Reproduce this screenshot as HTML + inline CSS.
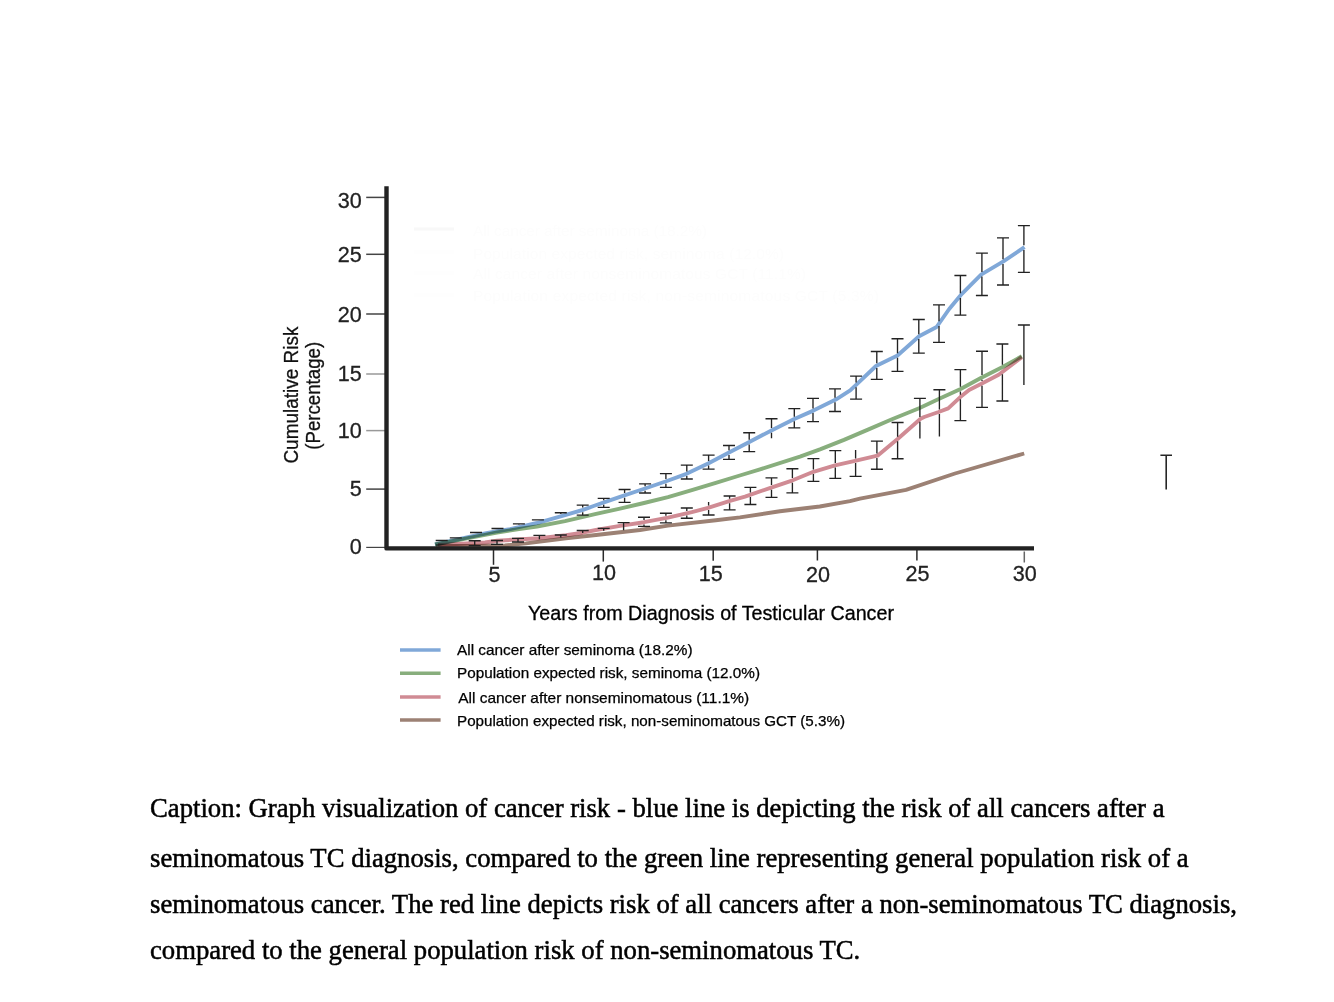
<!DOCTYPE html>
<html><head><meta charset="utf-8"><title>Cancer risk chart</title>
<style>html,body{margin:0;padding:0;background:#fff;width:1334px;height:1002px;overflow:hidden;position:relative}</style>
</head><body>
<svg width="1334" height="1002" viewBox="0 0 1334 1002" style="position:absolute;left:0;top:0"><g fill="#fdfdfd" font-family="Liberation Sans, sans-serif" font-size="15.5"><text x="473" y="236.4" textLength="234" lengthAdjust="spacing">All cancer after seminoma (18.2%)</text><text x="473" y="258.8" textLength="311" lengthAdjust="spacing">Population expected risk, seminoma (12.0%)</text><text x="473" y="279.3" textLength="333" lengthAdjust="spacing">All cancer after nonseminomatous GCT (11.1%)</text><text x="473" y="300.8" textLength="406" lengthAdjust="spacing">Population expected risk, non-seminomatous GCT (5.3%)</text></g><path d="M414,229H454" stroke="#f8f8f8" stroke-width="3"/><path d="M414,252H454M414,273H454M414,295H454" stroke="#fefefe" stroke-width="3"/><path d="M366.2,197.4H385" stroke="#444" stroke-width="1.5" fill="none"/><path d="M366.2,254.3H385" stroke="#444" stroke-width="1.5" fill="none"/><path d="M366.2,314H385" stroke="#444" stroke-width="1.5" fill="none"/><path d="M366.2,374H385" stroke="#999" stroke-width="1.5" fill="none"/><path d="M366.2,430.6H385" stroke="#999" stroke-width="1.5" fill="none"/><path d="M366.2,489.1H385" stroke="#444" stroke-width="1.5" fill="none"/><path d="M366.2,547.4H385" stroke="#444" stroke-width="1.2" fill="none"/><path d="M493.5,550V564.8" stroke="#2a2a2a" stroke-width="1.5" fill="none"/><path d="M603.3,550V561.6" stroke="#2a2a2a" stroke-width="1.5" fill="none"/><path d="M713.2,550V560.7" stroke="#2a2a2a" stroke-width="1.5" fill="none"/><path d="M817.4,550V560.5" stroke="#2a2a2a" stroke-width="1.5" fill="none"/><path d="M916.9,550V560.5" stroke="#2a2a2a" stroke-width="1.5" fill="none"/><path d="M1024.3,551.5V562.5" stroke="#666" stroke-width="1.5" fill="none"/><g font-family="Liberation Sans, sans-serif" font-size="22.5" fill="#222" stroke="#222" stroke-width="0.3" text-anchor="end"><text x="361.8" y="207.7" textLength="24.0" lengthAdjust="spacingAndGlyphs">30</text><text x="361.8" y="261.6" textLength="24.0" lengthAdjust="spacingAndGlyphs">25</text><text x="361.8" y="321.6" textLength="24.0" lengthAdjust="spacingAndGlyphs">20</text><text x="361.8" y="381.3" textLength="24.0" lengthAdjust="spacingAndGlyphs">15</text><text x="361.8" y="438.2" textLength="24.0" lengthAdjust="spacingAndGlyphs">10</text><text x="361.8" y="496.2" textLength="12.0" lengthAdjust="spacingAndGlyphs">5</text><text x="361.8" y="554" textLength="12.0" lengthAdjust="spacingAndGlyphs">0</text></g><g font-family="Liberation Sans, sans-serif" font-size="22.5" fill="#222" stroke="#222" stroke-width="0.3" text-anchor="middle"><text x="494.5" y="581.8" textLength="12.0" lengthAdjust="spacingAndGlyphs">5</text><text x="603.9" y="580.4" textLength="24.0" lengthAdjust="spacingAndGlyphs">10</text><text x="710.7" y="581" textLength="24.0" lengthAdjust="spacingAndGlyphs">15</text><text x="817.9" y="581.5" textLength="24.0" lengthAdjust="spacingAndGlyphs">20</text><text x="917.6" y="581" textLength="24.0" lengthAdjust="spacingAndGlyphs">25</text><text x="1024.8" y="581" textLength="24.0" lengthAdjust="spacingAndGlyphs">30</text></g><g fill="none" stroke-width="3.9" stroke-linejoin="round" stroke-linecap="butt"><path d="M436.0,546.0 L470.0,546.0 L505.0,545.4 L526.0,543.4 L566.0,538.4 L596.0,535.0 L640.0,530.0 L667.9,525.6 L715.8,520.2 L740.0,517.4 L779.9,511.3 L819.8,506.5 L850.0,501.2 L860.0,498.7 L906.0,489.9 L955.0,473.5 L1024.2,453.5" stroke="#9c8174" style="mix-blend-mode:multiply"/><path d="M438.0,545.0 L485.0,542.5 L497.0,540.7 L539.0,538.2 L566.0,535.3 L582.7,532.7 L596.0,530.0 L620.0,525.9 L644.0,522.2 L668.0,517.6 L691.8,512.2 L708.0,507.9 L730.0,500.9 L745.0,496.6 L771.9,487.3 L792.7,480.3 L813.4,471.8 L835.0,465.3 L855.0,460.8 L877.5,455.7 L897.9,438.8 L920.6,418.8 L924.2,417.0 L938.6,412.0 L948.2,408.4 L960.3,397.1 L969.1,389.9 L981.9,383.5 L998.7,374.7 L1021.8,357.1" stroke="#d08b94" style="mix-blend-mode:multiply"/><path d="M435.0,544.5 L485.0,533.5 L497.0,531.2 L510.0,529.1 L519.0,527.1 L537.0,523.0 L565.0,515.0 L583.0,509.8 L595.0,505.5 L604.0,502.4 L620.0,496.9 L645.0,488.5 L665.5,481.5 L686.5,473.8 L708.6,463.3 L729.0,452.6 L749.3,442.0 L771.9,430.2 L794.3,419.0 L813.4,410.6 L835.8,399.6 L850.2,390.4 L856.6,384.4 L876.0,366.0 L897.5,355.5 L919.1,336.3 L936.6,327.0 L949.2,309.0 L961.9,293.8 L981.1,274.7 L1003.4,261.4 L1024.5,247.2" stroke="#80a8d8" style="mix-blend-mode:multiply"/><path d="M435.0,544.5 L485.0,534.8 L497.0,532.5 L519.0,529.0 L537.0,526.5 L565.0,521.1 L595.0,514.2 L620.0,508.6 L644.0,503.0 L668.0,497.1 L691.8,490.1 L715.8,482.8 L739.8,475.5 L760.0,469.4 L800.0,456.6 L820.0,449.4 L844.0,439.9 L868.0,429.6 L892.0,419.3 L900.0,416.0 L919.1,408.2 L939.8,398.6 L960.6,389.0 L981.3,377.8 L1002.6,367.0 L1021.8,356.3" stroke="#88ae7d" style="mix-blend-mode:multiply"/></g><path d="M435.7,540.5H447.7M449.8,537.8H461.8M476.0,532.5V533.2M470.0,532.5H482.0M491.5,528.5H503.5M518.9,523.8V524.8M512.9,523.8H524.9M537.9,519.9V520.4M531.9,519.9H543.9M560.8,512.7V513.9M554.8,512.7H566.8M582.7,505.1V507.6M582.7,512.2V515.1M576.7,505.1H588.7M576.7,515.1H588.7M603.7,498.4V500.2M603.7,504.8V507.4M597.7,498.4H609.7M597.7,507.4H609.7M624.6,489.5V493.1M624.6,497.7V502.4M618.6,489.5H630.6M618.6,502.4H630.6M645.1,483.8V486.2M645.1,490.8V493.0M639.1,483.8H651.1M639.1,493.0H651.1M665.9,473.6V479.1M665.9,483.7V487.3M659.9,473.6H671.9M659.9,487.3H671.9M686.8,465.1V471.4M686.8,476.0V479.0M680.8,465.1H692.8M680.8,479.0H692.8M708.6,455.1V461.0M708.6,465.6V469.1M702.6,455.1H714.6M702.6,469.1H714.6M729.0,445.5V450.3M729.0,454.9V459.3M723.0,445.5H735.0M723.0,459.3H735.0M749.2,432.7V439.8M749.2,444.4V451.6M743.2,432.7H755.2M743.2,451.6H755.2M771.5,418.7V428.1M771.5,432.7V438.3M765.5,418.7H777.5M794.3,408.6V416.7M794.3,421.3V427.8M788.3,408.6H800.3M788.3,427.8H800.3M813.0,398.4V408.5M813.0,413.1V421.6M807.0,398.4H819.0M807.0,421.6H819.0M835.0,388.8V397.7M835.0,402.3V411.5M829.0,388.8H841.0M829.0,411.5H841.0M856.1,376.1V382.6M856.1,387.2V399.1M850.1,376.1H862.1M850.1,399.1H862.1M876.8,351.5V363.3M876.8,367.9V379.4M870.8,351.5H882.8M870.8,379.4H882.8M897.5,338.7V353.2M897.5,357.8V371.4M891.5,338.7H903.5M891.5,371.4H903.5M918.8,319.5V334.3M918.8,338.9V353.1M912.8,319.5H924.8M912.8,353.1H924.8M939.0,304.9V321.3M939.0,325.9V342.3M933.0,304.9H945.0M933.0,342.3H945.0M960.4,275.5V293.3M960.4,297.9V315.1M954.4,275.5H966.4M954.4,315.1H966.4M981.9,253.1V271.9M981.9,276.5V295.5M975.9,253.1H987.9M975.9,295.5H987.9M1003.0,237.9V259.3M1003.0,263.9V285.0M997.0,237.9H1009.0M997.0,285.0H1009.0M1023.9,225.6V245.3M1023.9,249.9V272.3M1017.9,225.6H1029.9M1017.9,272.3H1029.9M474.7,540.7V545.6M468.7,540.7H480.7M468.7,545.6H480.7M497.0,540.5V544.4M491.0,540.5H503.0M491.0,544.4H503.0M518.0,538.3V542.0M512.0,538.3H524.0M512.0,542.0H524.0M539.4,535.3V539.3M533.4,535.3H545.4M560.8,535.0V537.5M554.8,535.0H566.8M582.7,530.5V533.0M576.7,530.5H588.7M603.7,528.3V530.8M597.7,528.3H609.7M623.6,522.6V530.2M617.6,522.6H629.6M644.0,517.2V519.9M644.0,524.5V526.3M638.0,517.2H650.0M638.0,526.3H650.0M665.9,513.2V515.7M665.9,520.3V522.8M659.9,513.2H671.9M659.9,522.8H671.9M686.8,508.0V511.0M686.8,515.6V518.2M680.8,508.0H692.8M680.8,518.2H692.8M708.6,502.0V505.4M708.6,510.0V515.0M702.6,515.0H714.6M729.6,496.0V498.7M729.6,503.3V509.8M723.6,496.0H735.6M723.6,509.8H735.6M750.4,487.4V492.4M750.4,497.0V504.5M744.4,487.4H756.4M744.4,504.5H756.4M771.5,477.8V485.1M771.5,489.7V497.3M765.5,477.8H777.5M765.5,497.3H777.5M792.4,468.7V478.1M792.4,482.7V492.9M786.4,468.7H798.4M786.4,492.9H798.4M813.4,458.6V469.5M813.4,474.1V481.3M807.4,458.6H819.4M807.4,481.3H819.4M835.3,450.6V462.9M835.3,467.5V478.3M829.3,450.6H841.3M829.3,478.3H841.3M855.6,450.0V458.4M855.6,463.0V476.3M849.6,476.3H861.6M876.9,441.1V453.5M876.9,458.1V469.2M870.9,441.1H882.9M870.9,469.2H882.9M897.6,422.5V436.7M897.6,441.3V458.7M891.6,422.5H903.6M891.6,458.7H903.6M919.9,398.3V417.1M919.9,421.7V438.4M913.9,398.3H925.9M939.4,389.7V409.4M939.4,414.0V436.4M933.4,389.7H945.4M960.4,369.6V386.8M960.4,391.4V394.7M960.4,399.3V420.6M954.4,369.6H966.4M954.4,420.6H966.4M982.0,351.2V375.1M982.0,379.7V381.1M982.0,385.7V407.4M976.0,351.2H988.0M976.0,407.4H988.0M1002.4,344.0V364.8M1002.4,374.2V401.0M996.4,344.0H1008.4M996.4,401.0H1008.4M1023.9,325.0V385.1M1017.9,325.0H1029.9" stroke="#222" stroke-width="1.35" fill="none"/><path d="M1160.4,455.3H1172M1166.2,455.3V489.4" stroke="#262626" stroke-width="1.6" fill="none"/><path d="M386.5,186.3V548.4H1034" stroke="#222" stroke-width="4.4" fill="none" stroke-linejoin="round"/><text x="528" y="620" font-family="Liberation Sans, sans-serif" font-size="19.3" fill="#000" stroke="#000" stroke-width="0.3" textLength="366" lengthAdjust="spacingAndGlyphs">Years from Diagnosis of Testicular Cancer</text><g font-family="Liberation Sans, sans-serif" font-size="20.3" fill="#111" stroke="#111" stroke-width="0.3"><text transform="translate(297.6,463.6) rotate(-90)" textLength="137" lengthAdjust="spacingAndGlyphs">Cumulative Risk</text><text transform="translate(319.5,449.8) rotate(-90)" textLength="108" lengthAdjust="spacingAndGlyphs">(Percentage)</text></g><path d="M400,650H440.6" stroke="#80a8d8" stroke-width="3.6"/><text x="457.0" y="655.1" font-family="Liberation Sans, sans-serif" font-size="14.3" fill="#000" stroke="#000" stroke-width="0.25" textLength="235.5" lengthAdjust="spacingAndGlyphs">All cancer after seminoma (18.2%)</text><path d="M400,673.3H440.6" stroke="#88ae7d" stroke-width="3.6"/><text x="457.0" y="677.6" font-family="Liberation Sans, sans-serif" font-size="14.3" fill="#000" stroke="#000" stroke-width="0.25" textLength="303" lengthAdjust="spacingAndGlyphs">Population expected risk, seminoma (12.0%)</text><path d="M400,697H440.6" stroke="#d08b94" stroke-width="3.6"/><text x="458.2" y="703.2" font-family="Liberation Sans, sans-serif" font-size="14.3" fill="#000" stroke="#000" stroke-width="0.25" textLength="291" lengthAdjust="spacingAndGlyphs">All cancer after nonseminomatous (11.1%)</text><path d="M400,720H440.6" stroke="#9c8174" stroke-width="3.6"/><text x="457.0" y="725.7" font-family="Liberation Sans, sans-serif" font-size="14.3" fill="#000" stroke="#000" stroke-width="0.25" textLength="388" lengthAdjust="spacingAndGlyphs">Population expected risk, non-seminomatous GCT (5.3%)</text><g font-family="Liberation Serif, serif" font-size="26.7" fill="#000" stroke="#000" stroke-width="0.5"><text x="150" y="817.2">Caption: Graph visualization of cancer risk - blue line is depicting the risk of all cancers after a</text><text x="150" y="866.7">seminomatous TC diagnosis, compared to the green line representing general population risk of a</text><text x="150" y="912.7">seminomatous cancer. The red line depicts risk of all cancers after a non-seminomatous TC diagnosis,</text><text x="150" y="958.7">compared to the general population risk of non-seminomatous TC.</text></g></svg>
</body></html>
